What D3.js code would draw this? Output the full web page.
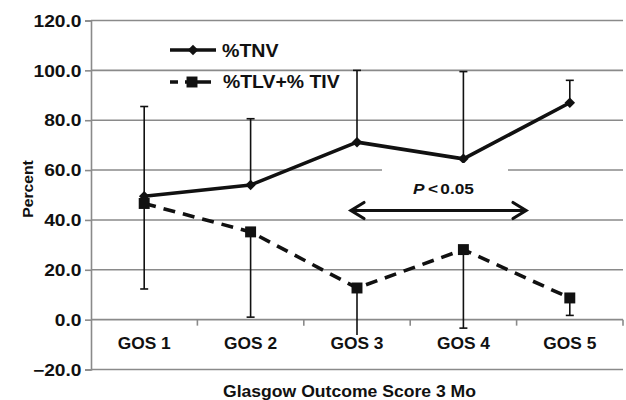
<!DOCTYPE html>
<html>
<head>
<meta charset="utf-8">
<script src="https://cdn.jsdelivr.net/npm/d3@7"></script>
<style>
  html, body { margin: 0; padding: 0; background: #fff; }
  svg { display: block; }
  text { font-family: "Liberation Sans", Arial, Helvetica, sans-serif; font-weight: bold; fill: #111; }
</style>
</head>
<body>
<svg id="chart" width="626" height="400"></svg>
<script>
// Glasgow Outcome Score categories at 3 months
const categories = ["GOS 1", "GOS 2", "GOS 3", "GOS 4", "GOS 5"];

// %TNV means with upper error limits
const tnvValues = [49.5, 54.0, 71.2, 64.5, 87.0];
const tnvUpper  = [85.5, 80.6, 100.0, 99.5, 96.0];

// %TLV + %TIV means with lower error limits
const tlvValues = [46.6, 35.2, 12.7, 28.1, 8.7];
const tlvLower  = [12.3, 1.0, -8.0, -3.4, 1.7];

const yTicks = [-20, 0, 20, 40, 60, 80, 100, 120];
const legendLabels = ["%TNV", "%TLV+% TIV"];

const svg = d3.select("#chart");
const plotLeft = 91, plotRight = 623, plotTop = 20.5, plotBottom = 369.5;

const x = d3.scaleBand().domain(categories).range([plotLeft, plotRight]).padding(0);
const y = d3.scaleLinear().domain([-20, 120]).range([plotBottom, plotTop]);
const cx = c => x(c) + x.bandwidth() / 2;
const grid = "#8a8a8a";

// text placed at (px, py) and widened horizontally by sx
function wideText(parent, px, py, sx, size, str) {
  return parent.append("text")
    .attr("transform", `translate(${px},${py}) scale(${sx},1)`)
    .attr("font-size", size).text(str);
}

// horizontal gridlines
svg.append("g").selectAll("line").data(yTicks).join("line")
  .attr("x1", plotLeft).attr("x2", plotRight)
  .attr("y1", d => y(d)).attr("y2", d => y(d))
  .attr("stroke", grid).attr("stroke-width", 1.6);

// y axis with labels
const tickSx = 1.2;
const yAxis = d3.axisLeft(y).tickValues(yTicks).tickSize(6).tickPadding(6)
  .tickFormat(d => (d < 0 ? "\u2212" + Math.abs(d).toFixed(1) : d.toFixed(1)));
const yg = svg.append("g").attr("transform", `translate(${plotLeft},0)`).call(yAxis);
yg.select(".domain").attr("stroke", grid).attr("stroke-width", 1.6);
yg.selectAll(".tick line").attr("stroke", grid).attr("stroke-width", 1.6);
yg.selectAll(".tick text").attr("font-size", 16).attr("fill", "#111")
  .attr("font-family", "Liberation Sans, Arial, sans-serif").attr("font-weight", "bold")
  .attr("x", -9.5 / tickSx).attr("dy", "0.36em")
  .attr("transform", `scale(${tickSx},1)`);

// category boundary ticks along the zero line
svg.append("g").selectAll("line").data(categories).join("line")
  .attr("x1", c => x(c) + x.bandwidth()).attr("x2", c => x(c) + x.bandwidth())
  .attr("y1", y(0)).attr("y2", y(0) + 6)
  .attr("stroke", grid).attr("stroke-width", 1.6);

// error bars
const bars = svg.append("g").attr("stroke", "#111").attr("stroke-width", 1.6);
categories.forEach((c, i) => {
  bars.append("line").attr("x1", cx(c)).attr("x2", cx(c))
    .attr("y1", y(tnvValues[i])).attr("y2", y(tnvUpper[i]));
  bars.append("line").attr("x1", cx(c) - 4).attr("x2", cx(c) + 4)
    .attr("y1", y(tnvUpper[i])).attr("y2", y(tnvUpper[i]));
  bars.append("line").attr("x1", cx(c)).attr("x2", cx(c))
    .attr("y1", y(tlvValues[i])).attr("y2", y(tlvLower[i]));
  bars.append("line").attr("x1", cx(c) - 4).attr("x2", cx(c) + 4)
    .attr("y1", y(tlvLower[i])).attr("y2", y(tlvLower[i]));
});

// category labels on white backing
const labels = svg.append("g");
categories.forEach(c => {
  labels.append("rect").attr("x", cx(c) - 28).attr("y", 335).attr("width", 56).attr("height", 18).attr("fill", "#fff");
  wideText(labels, cx(c), 349, 1.02, 17, c).attr("text-anchor", "middle");
});

// lines
const line = d3.line().x((d, i) => cx(categories[i])).y(d => y(d));
svg.append("path").datum(tlvValues).attr("d", line)
  .attr("fill", "none").attr("stroke", "#111").attr("stroke-width", 3.6)
  .attr("stroke-dasharray", "12,8");
svg.append("path").datum(tnvValues).attr("d", line)
  .attr("fill", "none").attr("stroke", "#111").attr("stroke-width", 3.6)
  .attr("stroke-linejoin", "round");

// markers
const diamond = d3.symbol().type(d3.symbolDiamond2).size(70);
const square = d3.symbol().type(d3.symbolSquare).size(120);
svg.append("g").selectAll("path").data(tnvValues).join("path")
  .attr("d", diamond).attr("fill", "#111")
  .attr("transform", (d, i) => `translate(${cx(categories[i])},${y(d)})`);
svg.append("g").selectAll("path").data(tlvValues).join("path")
  .attr("d", square).attr("fill", "#111")
  .attr("transform", (d, i) => `translate(${cx(categories[i])},${y(d)})`);

// significance bracket between GOS 3 and GOS 5
svg.append("rect").attr("x", 382).attr("y", 163).attr("width", 126).attr("height", 36).attr("fill", "#fff");
const sig = wideText(svg, 413, 194, 1.15, 15, "").attr("text-anchor", "start");
sig.append("tspan").attr("font-style", "italic").text("P");
sig.append("tspan").attr("dx", 3).text("<");
sig.append("tspan").attr("dx", 2).text("0.05");

const ax1 = 351, ax2 = 526, ay = 210.5;
const arrow = svg.append("g").attr("stroke", "#111").attr("fill", "none")
  .attr("stroke-width", 3.2).attr("stroke-linecap", "round").attr("stroke-linejoin", "miter");
arrow.append("line").attr("x1", ax1 + 1).attr("x2", ax2 - 1).attr("y1", ay).attr("y2", ay);
arrow.append("path").attr("d", `M${ax1 + 13},${ay - 8} L${ax1},${ay} L${ax1 + 13},${ay + 8}`);
arrow.append("path").attr("d", `M${ax2 - 13},${ay - 8} L${ax2},${ay} L${ax2 - 13},${ay + 8}`);

// legend
const leg = svg.append("g");
leg.append("line").attr("x1", 170).attr("x2", 216).attr("y1", 50).attr("y2", 50)
  .attr("stroke", "#111").attr("stroke-width", 3.6);
leg.append("path").attr("d", diamond).attr("fill", "#111").attr("transform", "translate(193,50)");
wideText(leg, 222, 56.5, 1.12, 17.5, legendLabels[0]);
leg.append("line").attr("x1", 170).attr("x2", 211).attr("y1", 82).attr("y2", 82)
  .attr("stroke", "#111").attr("stroke-width", 3.6).attr("stroke-dasharray", "8 7 27 7");
leg.append("path").attr("d", square).attr("fill", "#111").attr("transform", "translate(192,82)");
wideText(leg, 223, 88, 1.11, 17.5, legendLabels[1]);

// axis titles
svg.append("text").attr("transform", "translate(33,189) rotate(-90) scale(1.05,1)")
  .attr("text-anchor", "middle").attr("font-size", 15).text("Percent");
wideText(svg, 349.5, 396.5, 1.10, 16, "Glasgow Outcome Score 3 Mo").attr("text-anchor", "middle");
</script>
</body>
</html>
